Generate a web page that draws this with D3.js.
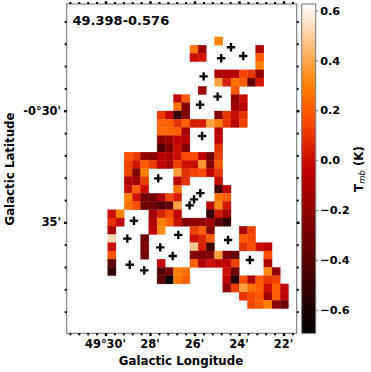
<!DOCTYPE html>
<html>
<head>
<meta charset="utf-8">
<script src="https://cdnjs.cloudflare.com/ajax/libs/d3/7.8.5/d3.min.js"></script>
<style>
    html, body { margin: 0; padding: 0; background: #fff; }
    svg { display: block; }
    text { font-family: "DejaVu Sans", sans-serif; font-weight: bold; fill: #000; }
</style>
</head>
<body>
<div id="vis"></div>
<script>
const _ = null;

// T_mb per map cell, top row first. Rows 4..36 and columns 5..26 of the 28x40 map, the rest is blank
const firstRow = 4, firstCol = 5, nCols = 28, nRows = 40;
const cellValues = [
    [_,_,_,_,_,_,_,_,_,_,_,_,_,.30,_,_,_,_,_,_,_,_],
    [_,_,_,_,_,_,_,_,_,_,.27,-.14,_,_,_,_,_,_,-.09,_,_,_],
    [_,_,_,_,_,_,_,_,_,_,-.01,.03,_,_,_,_,_,_,.19,_,_,_],
    [_,_,_,_,_,_,_,_,_,_,_,_,_,_,_,_,_,_,.30,_,_,_],
    [_,_,_,_,_,_,_,_,_,_,_,_,_,-.09,-.09,-.06,.14,.11,-.2,_,_,_],
    [_,_,_,_,_,_,_,_,_,_,_,_,_,.38,.04,.26,.21,-.36,.03,_,_,_],
    [_,_,_,_,_,_,_,_,_,_,_,-.14,_,_,_,.19,_,_,_,_,_,_],
    [_,_,_,_,_,_,_,_,-.02,.19,_,_,_,_,_,-.2,0,_,_,_,_,_],
    [_,_,_,_,_,_,_,_,.26,-.25,_,_,_,_,_,-.14,-.06,_,_,_,_,_],
    [_,_,_,_,_,_,.11,-.03,-.53,-.25,_,_,_,-.25,.11,0,.09,_,_,_,_,_],
    [_,_,_,_,_,_,.22,.21,.09,.21,.04,.04,.38,.30,.11,-.06,.13,_,_,_,_,_],
    [_,_,_,_,_,_,.24,.22,.21,-.11,_,_,_,-.06,_,_,_,_,_,_,_,_],
    [_,_,_,_,_,_,-.2,-.14,-.03,-.06,_,_,_,-.03,_,_,_,_,_,_,_,_],
    [_,_,_,_,_,_,-.42,-.25,0,-.25,_,_,_,.09,_,_,_,_,_,_,_,_],
    [_,_,.17,.11,-.18,-.22,-.06,-.11,0,.15,.15,-.03,-.31,.12,_,_,_,_,_,_,_,_],
    [_,_,.13,.03,.21,.12,-.03,-.11,.13,.01,0,.36,-.25,.21,_,_,_,_,_,_,_,_],
    [_,_,.13,-.25,.30,_,_,_,.38,.09,.13,.15,-.03,.10,_,_,_,_,_,_,_,_],
    [_,_,-.09,-.14,.12,_,_,_,-.06,.09,_,_,_,0,_,_,_,_,_,_,_,_],
    [_,_,0,.21,.01,_,_,_,.26,_,_,_,_,-.47,-.03,_,_,_,_,_,_,_],
    [_,_,.30,.01,-.31,-.31,-.11,.15,.03,_,_,_,_,.26,.21,_,_,_,_,_,_,_],
    [_,_,.25,.17,-.31,-.31,-.42,-.36,.38,_,_,_,-.06,.32,.03,_,_,_,_,_,_,_],
    [0,.30,_,_,_,-.14,.05,.15,-.03,_,_,_,-.53,.03,-.14,_,_,_,_,_,_,_],
    [.09,-.03,_,_,_,-.09,.30,.21,0,-.25,-.2,-.2,-.14,-.36,-.53,_,_,_,_,_,_,_],
    [-.11,_,_,_,_,-.03,.32,_,_,_,.13,.21,-.25,_,_,_,-.09,.13,_,_,_,_],
    [.53,_,_,_,-.31,_,_,_,_,_,0,.05,.21,_,_,_,.19,.15,_,_,_,_],
    [0,_,_,_,-.25,_,_,_,_,_,.48,.05,-.47,_,_,_,.09,.17,0,-.03,_,_],
    [.19,_,_,_,-.31,_,_,_,_,_,-.25,-.25,-.25,.38,-.25,-.36,_,_,_,.17,_,_],
    [-.38,_,_,_,_,_,-.03,_,_,_,.21,-.09,.01,-.03,-.03,.13,_,_,_,-.09,_,_],
    [-.53,_,_,_,_,_,-.42,-.31,.30,.26,_,_,_,_,0,-.31,_,_,_,.32,-.2,_],
    [_,_,_,_,_,_,-.36,-.68,.28,.21,_,_,_,_,-.03,-.58,.17,-.09,.19,.11,.13,_],
    [_,_,_,_,_,_,_,_,_,_,_,_,_,_,-.2,.13,.38,.25,.21,0,.21,-.03],
    [_,_,_,_,_,_,_,_,_,_,_,_,_,_,_,_,.09,.15,.19,-.14,.21,-.03],
    [_,_,_,_,_,_,_,_,_,_,_,_,_,_,_,_,_,.15,.2,.30,-.2,-.31]
];

// source positions, arcmin of longitude past 49 deg and arcmin of latitude
const srcLon = [24.36, 23.81, 24.80, 25.59, 24.96, 25.75, 25.66, 27.63, 25.74, 26.02, 26.22, 28.72, 26.73, 29.02, 24.49, 27.54, 26.98, 23.51, 28.91, 28.26];
const srcLat = [-27.16, -27.55, -27.65, -28.46, -29.37, -29.73, -31.13, -33.03, -33.69, -33.97, -34.24, -34.93, -35.56, -35.73, -35.79, -36.12, -36.51, -36.69, -36.90, -37.15];

const lonTicks = [30, 28, 26, 24, 22];
const lonLabels = ["49°30'", "28'", "26'", "24'", "22'"];
const latTicks = [-30, -35];
const latLabels = ["-0°30'", "35'"];
const barTicks = [0.6, 0.4, 0.2, 0, -0.2, -0.4, -0.6];

const width = 371, height = 372;
const box = { left: 66.7, right: 296.7, top: 4, bottom: 333.3 };
const bar = { left: 301.7, right: 315.7 };
const frameColor = "#777";

const svg = d3.select("#vis").append("svg")
    .attr("width", width)
    .attr("height", height);

const x = d3.scaleLinear().domain([31.744, 21.407]).range([box.left, box.right]);
const y = d3.scaleLinear().domain([-25.22, -39.97]).range([box.top, box.bottom]);
const colX = d3.scaleLinear().domain([0, nCols]).range([box.left, box.right]);
const rowY = d3.scaleLinear().domain([0, nRows]).range([box.top, box.bottom]);

// same ramp as matplotlib gist_heat
function gistHeat(t) {
    const r = Math.min(1, 1.5 * t),
        g = Math.max(0, 2 * t - 1),
        b = Math.max(0, 4 * t - 3);
    return d3.rgb(r * 255, g * 255, b * 255).formatHex();
}
const color = d3.scaleSequential(gistHeat).domain([-0.694, 0.626]);

// map cells
const cells = [];
cellValues.forEach(function(row, i) {
    row.forEach(function(v, j) {
        if (v !== null) cells.push({ row: i + firstRow, col: j + firstCol, v: v });
    });
});

svg.append("defs").append("filter")
    .attr("id", "soft")
    .append("feGaussianBlur")
    .attr("stdDeviation", 0.35);

svg.append("g")
    .attr("filter", "url(#soft)")
    .selectAll("rect")
    .data(cells)
    .join("rect")
    .attr("x", d => colX(d.col))
    .attr("y", d => rowY(d.row))
    .attr("width", d => colX(d.col + 1) - colX(d.col))
    .attr("height", d => rowY(d.row + 1) - rowY(d.row))
    .attr("fill", d => color(d.v))
    .attr("stroke", d => color(d.v))
    .attr("stroke-width", 0.3);

// source markers
svg.append("g")
    .selectAll("path")
    .data(srcLon)
    .join("path")
    .attr("transform", (d, i) => "translate(" + x(d) + "," + y(srcLat[i]) + ")")
    .attr("d", "M-4.2,0H4.2M0,-4.2V4.2")
    .attr("fill", "none")
    .attr("stroke", "#000")
    .attr("stroke-width", 2.4);

// frame
svg.append("rect")
    .attr("x", box.left)
    .attr("y", box.top)
    .attr("width", box.right - box.left)
    .attr("height", box.bottom - box.top)
    .attr("fill", "none")
    .attr("stroke", frameColor)
    .attr("stroke-width", 1.1);

// ticks on all four sides, they come out as short stubs in the original
function addTicks(axis, tx, ty, values, size, weight) {
    const g = svg.append("g")
        .attr("transform", "translate(" + tx + "," + ty + ")")
        .call(axis.tickValues(values).tickSize(size).tickFormat("").tickSizeOuter(0));
    g.select(".domain").remove();
    g.selectAll(".tick line").attr("stroke", "#000").attr("stroke-width", weight);
    g.selectAll(".tick text").remove();
}
const lonMinor = d3.range(21.6, 31.7, 0.4).filter(d => lonTicks.indexOf(Math.round(d * 10) / 10) < 0);
const latMinor = d3.range(-39, -25, 1).filter(d => latTicks.indexOf(d) < 0);

addTicks(d3.axisBottom(x), 0, box.bottom, lonMinor, 2, 2);
addTicks(d3.axisBottom(x), 0, box.bottom, lonTicks, 2.8, 2.4);
addTicks(d3.axisTop(x), 0, box.top, lonMinor, 2, 2);
addTicks(d3.axisTop(x), 0, box.top, lonTicks, 2.8, 2.4);
addTicks(d3.axisLeft(y), box.left, 0, latMinor, 2, 2);
addTicks(d3.axisLeft(y), box.left, 0, latTicks, 2.8, 2.4);
addTicks(d3.axisRight(y), box.right, 0, latMinor, 2, 2);
addTicks(d3.axisRight(y), box.right, 0, latTicks, 2.8, 2.4);

// tick labels
svg.append("g")
    .selectAll("text")
    .data(lonTicks)
    .join("text")
    .attr("x", d => x(d))
    .attr("y", 348)
    .attr("text-anchor", "middle")
    .attr("font-size", 11.4)
    .text((d, i) => lonLabels[i]);

svg.append("g")
    .selectAll("text")
    .data(latTicks)
    .join("text")
    .attr("x", 61)
    .attr("y", d => y(d) + 4)
    .attr("text-anchor", "end")
    .attr("font-size", 11.4)
    .text((d, i) => latLabels[i]);

// titles
svg.append("text")
    .attr("x", 72.5)
    .attr("y", 25)
    .attr("font-size", 13)
    .text("49.398-0.576");

svg.append("text")
    .attr("x", 181)
    .attr("y", 365)
    .attr("text-anchor", "middle")
    .attr("font-size", 11.8)
    .text("Galactic Longitude");

svg.append("text")
    .attr("transform", "translate(14,169) rotate(-90)")
    .attr("text-anchor", "middle")
    .attr("font-size", 11.8)
    .text("Galactic Latitude");

// colorbar
const barY = d3.scaleLinear().domain([-0.694, 0.626]).range([box.bottom, box.top]);
const grad = svg.select("defs").append("linearGradient")
    .attr("id", "heat")
    .attr("x1", 0).attr("x2", 0)
    .attr("y1", 1).attr("y2", 0);
grad.selectAll("stop")
    .data(d3.range(0, 1.001, 0.05))
    .join("stop")
    .attr("offset", d => d)
    .attr("stop-color", d => gistHeat(d));

svg.append("rect")
    .attr("x", bar.left)
    .attr("y", box.top)
    .attr("width", bar.right - bar.left)
    .attr("height", box.bottom - box.top)
    .attr("fill", "url(#heat)")
    .attr("stroke", frameColor)
    .attr("stroke-width", 1);

const barAxis = svg.append("g")
    .attr("transform", "translate(" + bar.right + ",0)")
    .call(d3.axisRight(barY)
        .tickValues(barTicks)
        .tickSize(2.5)
        .tickPadding(2)
        .tickFormat(d => d3.format(".1f")(d).replace("-", "\u2212")));
barAxis.select(".domain").remove();
barAxis.selectAll(".tick line").attr("stroke", frameColor).attr("stroke-width", 1);
barAxis.selectAll(".tick text")
    .attr("font-family", null)
    .attr("font-size", 11.3);

const barLabel = svg.append("text")
    .attr("transform", "translate(363,169) rotate(-90)")
    .attr("text-anchor", "middle")
    .attr("font-size", 11.8);
barLabel.append("tspan").text("T");
barLabel.append("tspan")
    .attr("dy", 2)
    .attr("font-size", 8.5)
    .attr("font-style", "italic")
    .attr("font-weight", "normal")
    .text("mb");
barLabel.append("tspan")
    .attr("dy", -2)
    .text(" (K)");
</script>
</body>
</html>
